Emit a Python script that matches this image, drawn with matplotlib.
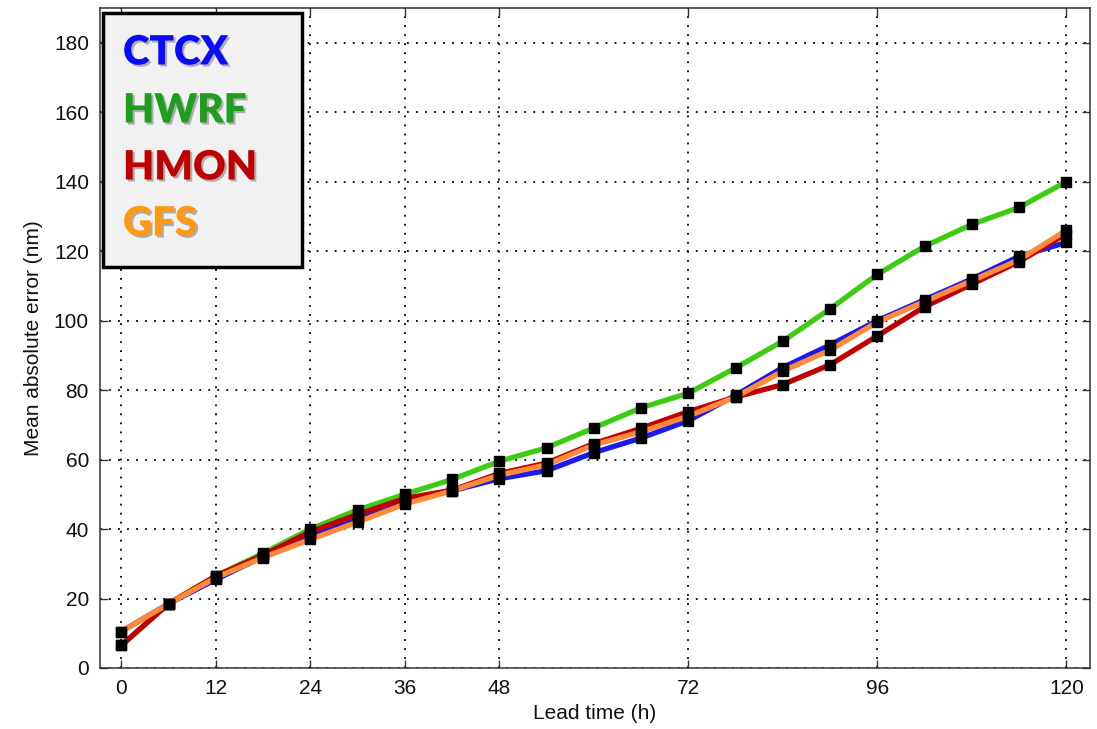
import matplotlib.pyplot as plt
import matplotlib.patheffects as pe
from matplotlib.patches import Rectangle

plt.rcParams['font.family'] = ['Liberation Sans', 'DejaVu Sans']

# Lead times (h) and mean absolute errors (nm) per model
lead_time = [0, 6, 12, 18, 24, 30, 36, 42, 48, 54, 60, 66, 72, 78, 84, 90, 96, 102, 108, 114, 120]
ctcx = [10.5, 18.5, 25.5, 32, 38, 43, 48, 51, 54.5, 56.8, 62, 66.2, 71.2, 78.5, 86.5, 93, 100, 106, 112, 118.5, 122.5]
hwrf = [6.5, 18.5, 26.5, 33, 40, 45.5, 50, 54.3, 59.5, 63.4, 69.1, 74.9, 79.1, 86.4, 94.1, 103.4, 113.3, 121.4, 127.7, 132.6, 140]
hmon = [6.5, 18.5, 26.5, 32.5, 39.2, 44.2, 48.8, 51.2, 56, 59, 64.6, 69, 73.8, 78, 81.6, 87.3, 95.6, 104, 110.5, 117, 125]
gfs = [10.5, 18.5, 26, 31.8, 37, 42, 47.2, 51, 55.5, 58.5, 64.2, 68, 72.5, 78, 85.5, 91.5, 99.6, 105.5, 111.5, 117.5, 126]

models = ['CTCX', 'HWRF', 'HMON', 'GFS']
line_colors = ['#1a1aee', '#3ccc12', '#c00000', '#ff8a3a']
text_colors = ['#0a0aff', '#1e9e1e', '#c00000', '#ff9a10']

xticks = [0, 12, 24, 36, 48, 72, 96, 120]
yticks = list(range(0, 181, 20))

fig = plt.figure(figsize=(10.97, 7.29), dpi=100)
ax = fig.add_axes([0.0912, 0.0837, 0.9024, 0.9053])

series = [ctcx, hwrf, hmon, gfs]
for vals, color, z in zip(series, line_colors, [2, 3, 4, 5]):
    ax.plot(lead_time, vals, color=color, lw=3.8, zorder=z, solid_capstyle='round')
for vals in series:
    ax.plot(lead_time, vals, ls='none', marker='s', ms=7.5, color='black', zorder=6)

ax.set_xlim(-2.7, 123)
ax.set_ylim(0, 190)
ax.set_xticks(xticks)
ax.set_yticks(yticks)
ax.grid(True, color='black', ls=(0, (1, 4)), lw=1.3)
ax.tick_params(direction='in', length=6, width=1, top=True, right=True,
               labelsize=15, labelcolor='#111111', pad=8, color='#333333')
for s in ax.spines.values():
    s.set_color('#333333')
    s.set_linewidth(1.1)

ax.set_xlabel('Lead time (h)', fontsize=15, color='#111111', labelpad=4)
ax.set_ylabel('Mean absolute error (nm)', fontsize=15, color='#111111', labelpad=8)

# custom legend box
box = Rectangle((103 / 1097, 1 - 267 / 729), 199 / 1097, 254 / 729, transform=fig.transFigure,
                facecolor='#f1f1f1', edgecolor='black', lw=2.5, zorder=10)
fig.patches.append(box)
ys = [53, 111, 168, 224]
for name, color, y in zip(models, text_colors, ys):
    fig.text(123 / 1097, 1 - y / 729, name, color=color, fontsize=29, fontweight='heavy',
             family='Lato', va='center', ha='left', zorder=11,
             path_effects=[pe.withSimplePatchShadow(offset=(1.5, -1.5), shadow_rgbFace='gray', alpha=0.6)])

plt.savefig('out.png', dpi=100)
